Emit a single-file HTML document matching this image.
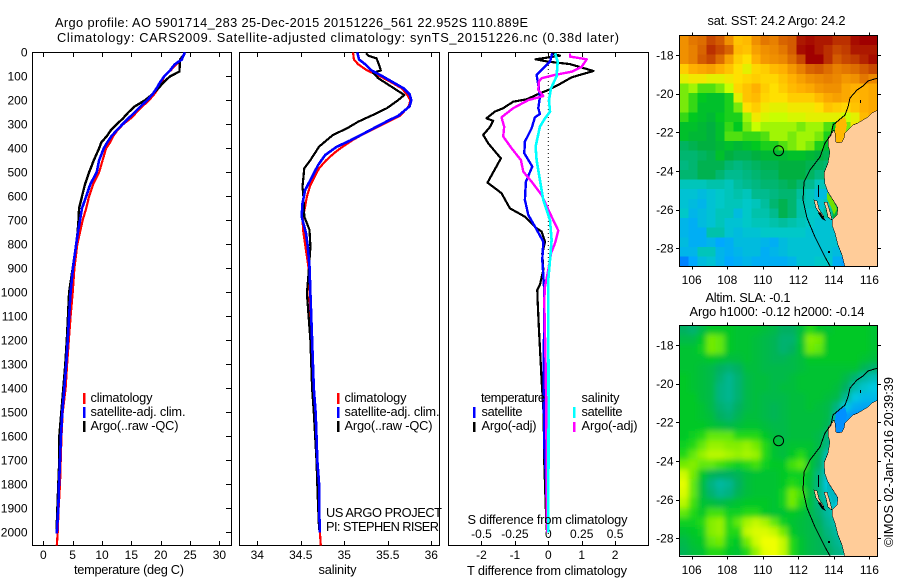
<!DOCTYPE html>
<html lang="en"><head><meta charset="utf-8"><title>Argo profile</title>
<style>
html,body{margin:0;padding:0;background:#fff}
svg{display:block}
text{font-family:"Liberation Sans",sans-serif;font-size:12px;fill:#000}
text.t{font-size:12.8px}
.j{shape-rendering:crispEdges}
</style></head><body>
<svg id="chart" xmlns="http://www.w3.org/2000/svg" width="900" height="580" viewBox="0 0 900 580">
<defs>
<filter id="slaSmooth" filterUnits="userSpaceOnUse" x="650" y="300" width="250" height="280"><feGaussianBlur stdDeviation="2.6"/></filter>
<clipPath id="slaClip"><rect x="679" y="325" width="199" height="230.3"/></clipPath>
</defs>
<rect width="900" height="580" fill="#fff"/>
<text class="t" x="55" y="27" textLength="473">Argo profile: AO 5901714_283 25-Dec-2015 20151226_561 22.952S 110.889E</text>
<text class="t" x="57" y="42" textLength="562">Climatology: CARS2009. Satellite-adjusted climatology: synTS_20151226.nc (0.38d later)</text>
<g id="cellsSst"></g>
<g clip-path="url(#slaClip)"><g id="cellsSla" filter="url(#slaSmooth)"></g></g>
<g id="overlay1" class="j"></g>
<g id="overlay2" class="j"></g>
<g id="axes"></g>
<g id="lines"></g>
<g>
<rect class="j" x="83" y="393" width="2.5" height="11" fill="#f00"/>
<rect class="j" x="83" y="407" width="2.5" height="11" fill="#00f"/>
<rect class="j" x="83" y="421" width="2.5" height="11" fill="#000"/>
<text class="t" x="90.5" y="402" textLength="62">climatology</text>
<text class="t" x="90.5" y="416" textLength="95">satellite-adj. clim.</text>
<text class="t" x="90.5" y="430" textLength="88">Argo(..raw -QC)</text>
</g>
<g>
<rect class="j" x="337" y="393" width="2.5" height="11" fill="#f00"/>
<rect class="j" x="337" y="407" width="2.5" height="11" fill="#00f"/>
<rect class="j" x="337" y="421" width="2.5" height="11" fill="#000"/>
<text class="t" x="344.5" y="402" textLength="62">climatology</text>
<text class="t" x="344.5" y="416" textLength="95">satellite-adj. clim.</text>
<text class="t" x="344.5" y="430" textLength="88">Argo(..raw -QC)</text>
<text class="t" x="326" y="517" textLength="116">US ARGO PROJECT</text>
<text class="t" x="326" y="531" textLength="113">PI: STEPHEN RISER</text>
</g>
<g>
<text class="t" x="481" y="402" textLength="64">temperature</text>
<rect class="j" x="473" y="407" width="2.5" height="11" fill="#00f"/>
<rect class="j" x="473" y="422" width="2.5" height="10" fill="#000"/>
<text class="t" x="481.5" y="416" textLength="41">satellite</text>
<text class="t" x="481.5" y="430" textLength="55">Argo(-adj)</text>
<text class="t" x="581.5" y="402" textLength="38">salinity</text>
<rect class="j" x="573" y="407" width="2.5" height="11" fill="#0ff"/>
<rect class="j" x="573" y="422" width="2.5" height="10" fill="#f0f"/>
<text class="t" x="581.5" y="416" textLength="41">satellite</text>
<text class="t" x="581.5" y="430" textLength="56">Argo(-adj)</text>
<text class="t" x="467.5" y="524" textLength="160">S difference from climatology</text>
</g>
<text class="t" x="74" y="574" textLength="110">temperature (deg C)</text>
<text class="t" x="318.5" y="574" textLength="38">salinity</text>
<text class="t" x="467" y="575" textLength="160">T difference from climatology</text>
<text class="t" x="707.5" y="25" textLength="138">sat. SST: 24.2 Argo: 24.2</text>
<text class="t" x="705.5" y="302" textLength="85">Altim. SLA: -0.1</text>
<text class="t" x="689.5" y="316" textLength="175">Argo h1000: -0.12 h2000: -0.14</text>
<text class="t" transform="translate(893,547) rotate(-90)" textLength="170">©IMOS 02-Jan-2016 20:39:39</text>
</svg>
<script>
/* ---- profile data: depth (m) and value arrays ---- */
const depthClim = [0,30,50,75,100,125,150,175,200,225,250,275,300,325,350,375,400,450,500,550,600,650,700,750,800,900,1000,1100,1200,1300,1400,1500,1600,1700,1800,1900,2000,2055];
const tempClim = [24.1,23.6,22.7,21.7,20.6,20.2,19.6,18.9,18.0,16.9,15.9,14.9,13.6,12.6,11.9,11.4,10.7,10.1,9.5,8.5,7.8,7.3,6.7,6.25,5.8,5.3,5.0,4.65,4.35,4.05,3.8,3.3,3.1,2.96,2.85,2.6,2.45,2.3];
const depthSat = [0,30,50,75,100,125,150,175,200,225,250,275,300,325,350,375,400,450,500,550,600,650,700,750,800,900,1000,1100,1200,1300,1400,1500,1600,1700,1800,1900,2005];
const tempSat = [24.1,23.6,22.4,21.6,20.6,19.9,19.3,18.6,17.7,16.6,15.6,14.5,13.5,12.5,11.6,10.9,10.3,9.5,9.1,8,7.3,6.6,6.25,5.9,5.6,5.05,4.65,4.4,4.15,3.9,3.58,3.24,3.0,2.85,2.67,2.55,2.3];
const depthArgoT = [5,30,70,80,100,125,150,175,200,225,250,275,300,325,350,375,400,450,500,550,600,650,700,750,800,900,1000,1100,1200,1300,1400,1500,1600,1700,1800,1900,2000];
const tempArgo = [24.1,23.3,23.2,23.2,21.6,20.5,19.6,18.6,17.3,15.6,14.5,13.6,12.5,11.5,10.8,9.9,9.5,8.6,7.8,7.1,6.6,6.1,6.0,5.85,5.6,5,4.4,4.2,4,3.75,3.4,3.07,2.73,2.73,2.55,2.4,2.25];

const depthSalClim = [0,30,50,75,100,125,150,175,200,225,265,282,303,324,344,365,396,421,451,483,518,553,601,643,699,750,800,850,900,1000,1200,1400,1500,1600,1700,1800,1900,2000,2055];
const salClim = [35.10,35.11,35.16,35.26,35.41,35.54,35.66,35.72,35.76,35.74,35.64,35.54,35.43,35.31,35.20,35.10,34.97,34.88,34.79,34.71,34.66,34.61,34.57,34.55,34.52,34.53,34.55,34.57,34.59,34.60,34.62,34.645,34.665,34.67,34.685,34.70,34.71,34.72,34.73];
const depthSalSat = [0,30,50,75,100,125,150,175,200,225,265,282,318,339,367,394,428,469,532,574,630,685,754,810,893,1004,1200,1400,1500,1600,1700,1800,1900,2000];
const salSat = [35.15,35.17,35.24,35.31,35.44,35.56,35.68,35.75,35.77,35.75,35.62,35.52,35.33,35.22,35.07,34.91,34.78,34.70,34.61,34.55,34.52,34.51,34.56,34.58,34.60,34.61,34.63,34.65,34.67,34.68,34.69,34.71,34.71,34.72];
const depthSalArgo = [4,15,25,53,76,85,108,143,178,199,233,261,289,317,344,393,449,483,560,601,685,740,810,921,1004,1200,1400,1500,1700,1800,1900,1990];
const salArgo = [35.25,35.28,35.37,35.40,35.42,35.33,35.39,35.54,35.69,35.62,35.49,35.33,35.16,35.03,34.87,34.71,34.61,34.54,34.52,34.53,34.54,34.60,34.61,34.59,34.57,34.61,34.63,34.65,34.68,34.69,34.70,34.71];

const depthDiffTArgo = [4,14,29,39,49,78,104,136,157,171,196,206,233,247,275,286,312,344,379,442,543,587,650,685,733,747,789,838,907,969,990,1032,1150,1365,1504,1712,1921,1990];
const diffTArgo = [0.08,0.35,-0.38,0,0.65,1.35,0.7,0.3,0,-0.25,-0.65,-1.05,-1.35,-1.6,-1.85,-1.65,-1.75,-1.95,-1.8,-1.42,-1.82,-1.4,-1.15,-0.7,-0.35,-0.2,-0.1,-0.18,-0.15,-0.25,-0.33,-0.32,-0.28,-0.2,-0.14,-0.12,-0.07,-0.05];
const depthDiffTSat = [4,39,60,94,136,185,233,257,271,317,372,421,476,539,615,678,726,789,865,976,1032,1365,1640,1780,1990];
const diffTSat = [0.12,0.05,-0.1,-0.35,-0.3,-0.25,-0.3,-0.25,-0.4,-0.5,-0.7,-0.72,-0.48,-0.67,-0.7,-0.6,-0.4,-0.15,-0.18,-0.13,-0.12,-0.14,-0.12,-0.07,-0.03];
const depthDiffSArgo = [4,18,29,60,81,94,108,122,157,182,199,233,271,310,351,400,449,497,539,594,671,743,796,838,893,976,1032,1300,1500,2000];
const diffSArgo = [0.1625,0.1625,0.2875,0.25,0.175,0.05,-0.05,-0.07,-0.075,-0.0375,-0.15,-0.2625,-0.35,-0.33,-0.3375,-0.275,-0.205,-0.1875,-0.125,-0.05,0.0125,0.075,0.05,0.02,0.005,-0.025,-0.03,-0.02,-0.015,-0.01];
const depthDiffSSat = [4,39,100,150,199,247,275,310,393,449,532,615,699,782,865,948,1032,1500,2000];
const diffSSat = [0.05,0.07,0.0625,0.02,0.005,0.0125,-0.025,-0.0625,-0.095,-0.0875,-0.0625,-0.0375,0.0125,0.025,0.0125,0,0,0.002,0];

/* ---- tick labels ---- */
const depthTicks = [0,100,200,300,400,500,600,700,800,900,1000,1100,1200,1300,1400,1500,1600,1700,1800,1900,2000];
const tempTicks = [0,5,10,15,20,25,30];
const salTicks = [34,34.5,35,35.5,36];
const diffTTicks = [-2,-1,0,1,2];
const diffSTicks = [-0.5,-0.25,0,0.25,0.5];
const lonTicks = [106,108,110,112,114,116];
const latTicks = [18,20,22,24,26,28];

/* ---- map values (22 columns, 24 rows at 0.5 deg) ---- */
const sstGrid = [
[26.0,26.3,26.4,26.8,26.6,26.0,25.4,25.5,26.0,26.3,26.2,26.5,26.6,27.2,27.3,27.2,27.2,27.0,27.0,27.3,27.4,27.4],
[26.0,26.2,26.5,27.0,26.8,26.5,25.5,25.4,25.8,26.0,26.1,26.3,26.6,27.3,27.4,27.2,27.0,26.8,26.9,27.2,27.2,27.2],
[26.0,26.2,26.6,26.8,26.4,25.8,25.3,25.1,25.6,25.9,26.0,26.1,26.4,26.8,27.4,27.5,27.0,26.6,26.8,26.9,27.1,27.3],
[25.3,25.6,25.7,25.8,25.6,25.4,25.1,24.9,25.2,25.3,25.5,25.6,25.9,26.2,26.5,26.6,26.4,26.2,26.3,26.4,26.6,26.8],
[24.9,25.0,25.0,24.9,24.9,25.0,25.1,25.2,25.3,25.2,25.2,25.4,25.6,25.8,26.0,26.1,26.2,26.1,25.9,26.0,26.3,26.1],
[24.5,24.6,24.4,24.4,24.5,24.7,25.2,25.4,25.6,25.3,25.1,25.3,25.5,25.6,25.7,25.9,26.0,26.0,25.7,25.6,25.6,25.7],
[24.5,24.3,24.1,24.0,24.0,24.2,24.9,25.4,25.5,25.2,25.1,25.1,25.3,25.3,25.3,25.5,25.7,25.8,25.7,25.5,25.6,25.7],
[24.5,24.3,24.0,24.0,24.0,24.2,24.5,25.1,25.3,25.0,24.9,24.9,25.0,25.0,25.0,25.1,25.4,25.3,25.2,25.4,25.6,25.7],
[24.3,24.1,24.0,23.9,24.1,24.2,24.2,24.6,25.0,24.8,24.7,24.7,24.8,24.8,24.9,24.9,24.9,24.9,24.7,24.9,25.5,25.7],
[24.0,24.0,23.9,23.8,24.0,24.3,24.1,24.5,24.7,24.6,24.6,24.6,24.6,24.5,24.6,24.6,24.4,24.1,24.5,25.0,25.4,25.6],
[24.0,23.9,23.9,23.8,24.0,24.4,24.4,24.3,24.3,24.4,24.6,24.6,24.5,24.6,24.6,24.5,24.2,24.0,25.2,25.2,25.2,25.2],
[23.6,23.7,23.8,23.8,23.9,24.0,23.9,24.0,24.1,24.2,24.2,24.4,24.5,24.6,24.5,24.2,24.0,23.8,23.8,23.8,23.8,23.8],
[23.5,23.5,23.6,23.7,24.0,23.8,23.7,23.7,23.8,23.9,23.9,23.9,24.0,24.0,23.9,23.8,23.7,23.6,23.6,23.6,23.6,23.6],
[23.4,23.5,23.7,23.7,23.7,23.5,23.4,23.5,23.6,23.7,23.7,23.8,23.8,23.8,23.7,23.6,23.5,23.5,23.5,23.5,23.5,23.5],
[23.5,23.5,23.7,23.7,23.5,23.3,23.3,23.4,23.5,23.6,23.6,23.8,23.8,23.8,23.6,23.4,23.5,23.5,23.5,23.5,23.5,23.5],
[23.0,23.0,23.0,23.1,23.1,23.0,23.2,23.3,23.4,23.5,23.5,23.6,23.7,23.5,23.3,23.0,23.0,23.2,23.2,23.2,23.2,23.2],
[22.8,22.8,22.7,22.8,22.9,23.0,23.1,23.0,23.3,23.3,23.4,23.5,23.5,23.2,23.0,22.7,22.7,23.3,24.0,24.0,24.0,24.0],
[22.8,22.7,22.6,22.8,22.9,23.0,23.0,22.9,23.0,23.2,23.5,23.7,23.5,23.1,23.0,22.8,23.0,23.5,24.0,24.0,24.0,24.0],
[22.9,22.6,22.7,22.8,23.0,23.0,22.7,22.9,23.1,23.1,23.3,23.7,23.5,23.1,22.9,22.9,23.2,23.8,24.4,24.4,24.4,24.4],
[22.6,22.5,22.7,22.8,23.0,22.8,22.8,22.9,23.0,23.0,23.1,23.2,23.1,23.0,22.9,22.8,22.8,22.8,22.8,22.8,22.8,22.8],
[22.6,22.5,22.5,23.1,23.1,22.8,22.7,22.8,22.8,22.9,22.9,22.9,22.9,22.9,22.8,22.8,22.8,22.8,22.8,22.8,22.8,22.8],
[22.7,22.5,22.5,22.6,22.4,22.5,22.7,22.7,22.7,22.6,22.5,22.7,22.8,22.8,22.8,22.8,22.8,22.8,22.8,22.8,22.8,22.8],
[22.6,22.6,23.0,23.0,22.6,22.5,22.6,22.7,22.7,22.5,22.6,22.7,22.8,22.8,22.8,22.8,22.8,22.7,22.7,22.7,22.7,22.7],
[22.0,22.4,22.7,22.8,22.6,22.4,22.5,22.6,22.5,22.5,22.5,22.5,22.6,22.8,22.8,22.9,22.9,22.5,22.3,22.3,22.3,22.3]
];
const slaGrid = [
[-.12,-.13,-.10,-.07,-.07,-.07,-.08,-.08,-.08,-.09,-.10,-.12,-.12,-.09,-.05,-.07,-.08,-.07,-.07,-.07,-.07,-.08],
[-.10,-.10,-.07,-.02,-.03,-.07,-.08,-.08,-.09,-.10,-.11,-.13,-.13,-.08,-.01,-.02,-.07,-.07,-.07,-.07,-.07,-.08],
[-.08,-.08,-.06,-.02,-.03,-.07,-.08,-.08,-.09,-.10,-.11,-.13,-.12,-.08,-.02,-.03,-.07,-.07,-.07,-.07,-.07,-.08],
[-.08,-.08,-.08,-.07,-.08,-.09,-.09,-.08,-.09,-.10,-.11,-.11,-.10,-.09,-.07,-.07,-.07,-.07,-.07,-.07,-.08,-.09],
[-.08,-.08,-.09,-.10,-.12,-.13,-.12,-.09,-.09,-.10,-.10,-.10,-.10,-.09,-.08,-.08,-.08,-.08,-.08,-.08,-.11,-.13],
[-.07,-.08,-.09,-.10,-.13,-.15,-.13,-.10,-.09,-.09,-.10,-.10,-.09,-.08,-.08,-.08,-.08,-.08,-.10,-.13,-.16,-.18],
[-.07,-.08,-.09,-.10,-.14,-.15,-.13,-.10,-.09,-.09,-.10,-.09,-.09,-.08,-.08,-.08,-.08,-.09,-.12,-.17,-.20,-.22],
[-.07,-.07,-.09,-.10,-.14,-.15,-.13,-.10,-.09,-.10,-.10,-.10,-.09,-.09,-.08,-.08,-.09,-.10,-.15,-.22,-.24,-.24],
[-.07,-.07,-.08,-.10,-.13,-.14,-.12,-.10,-.09,-.10,-.11,-.10,-.09,-.09,-.08,-.09,-.10,-.14,-.22,-.26,-.27,-.27],
[-.07,-.07,-.08,-.09,-.12,-.13,-.11,-.09,-.09,-.10,-.11,-.10,-.09,-.09,-.09,-.09,-.10,-.16,-.28,-.30,-.30,-.30],
[-.07,-.07,-.07,-.08,-.09,-.10,-.09,-.08,-.08,-.09,-.10,-.10,-.09,-.09,-.09,-.09,-.11,-.20,-.30,-.30,-.30,-.30],
[-.07,-.06,-.05,-.03,-.03,-.03,-.05,-.05,-.05,-.07,-.09,-.10,-.09,-.09,-.09,-.10,-.14,-.18,-.18,-.18,-.18,-.18],
[-.06,-.05,-.03,.00,.00,-.01,-.01,.00,-.02,-.05,-.08,-.09,-.08,-.08,-.08,-.10,-.14,-.20,-.20,-.20,-.20,-.20],
[-.05,-.03,.00,.02,.02,.01,.00,.01,.00,-.05,-.08,-.09,-.07,-.05,-.08,-.11,-.18,-.24,-.24,-.24,-.24,-.24],
[-.02,-.01,-.03,-.03,-.04,-.05,-.06,-.05,-.04,-.06,-.07,-.07,-.04,-.03,-.08,-.12,-.20,-.24,-.24,-.24,-.24,-.24],
[.04,-.02,-.07,-.11,-.12,-.12,-.11,-.09,-.08,-.08,-.08,-.07,-.06,-.06,-.08,-.14,-.20,-.24,-.26,-.26,-.26,-.26],
[.06,-.03,-.09,-.14,-.16,-.15,-.12,-.09,-.08,-.08,-.08,-.07,-.05,-.06,-.09,-.14,-.22,-.26,-.20,-.20,-.20,-.20],
[.05,-.03,-.09,-.13,-.15,-.14,-.11,-.09,-.08,-.08,-.08,-.06,-.02,-.04,-.09,-.14,-.20,-.26,-.14,-.14,-.14,-.14],
[.02,-.04,-.08,-.09,-.10,-.09,-.08,-.07,-.07,-.07,-.08,-.06,-.02,-.05,-.09,-.14,-.17,-.22,-.22,-.22,-.22,-.22],
[-.03,-.05,-.07,-.04,-.04,-.06,-.06,-.05,-.05,-.07,-.08,-.08,-.07,-.08,-.10,-.13,-.16,-.20,-.20,-.20,-.20,-.20],
[-.06,-.06,-.05,-.01,.00,-.05,-.03,.01,.03,.01,-.03,-.06,-.08,-.09,-.10,-.12,-.15,-.18,-.22,-.22,-.22,-.22],
[-.08,-.07,-.06,-.01,.00,-.05,-.05,.03,.05,.05,.03,-.02,-.07,-.09,-.10,-.11,-.14,-.16,-.22,-.22,-.22,-.22],
[-.10,-.08,-.07,-.03,-.02,-.06,-.07,-.02,.04,.07,.07,.03,-.05,-.08,-.10,-.11,-.13,-.15,-.18,-.22,-.22,-.22],
[-.11,-.09,-.08,-.05,-.05,-.07,-.08,-.05,.00,.06,.07,.03,-.05,-.08,-.10,-.11,-.12,-.14,-.16,-.20,-.20,-.20]
];
const argoLon = 110.889;
const argoLat = 22.952;

/* ---- axis functions ---- */
const NS = 'http://www.w3.org/2000/svg';
const yDepth = d => 52.3 + 0.24 * d;
const xTemp = t => 43.3 + 5.87 * t;
const xSal = s => 257.3 + 87 * (s - 34);
const xDiffT = t => 548.3 + 33.4 * t;
const xDiffS = s => 548.3 + 133.6 * s;
const xLon = lon => 691.7 + 17.77 * (lon - 106);
const yLatTop = lat => 55 + 19.33 * (lat - 18);
const yLatBot = lat => 345 + 19.33 * (lat - 18);

const axes = document.getElementById('axes');
const linesG = document.getElementById('lines');

function mk(parent, tag, attrs) {
  const el = document.createElementNS(NS, tag);
  for (const k in attrs) el.setAttribute(k, attrs[k]);
  parent.appendChild(el);
  return el;
}
function hexMix(stops, v) {
  if (v <= stops[0][0]) return stops[0][1];
  for (let i = 1; i < stops.length; i++) {
    if (v <= stops[i][0]) {
      const a = stops[i - 1], b = stops[i], f = (v - a[0]) / (b[0] - a[0]);
      const c = [1, 3, 5].map(p => Math.round(parseInt(a[1].substr(p, 2), 16) * (1 - f) + parseInt(b[1].substr(p, 2), 16) * f));
      return 'rgb(' + c.join(',') + ')';
    }
  }
  return stops[stops.length - 1][1];
}
const sstColors = [[21.8,'#0070ff'],[22.4,'#00a8ff'],[22.9,'#00c8c8'],[23.4,'#00b880'],[23.8,'#00b040'],[24.1,'#00c820'],[24.4,'#50e010'],[24.7,'#c8ff00'],[25.1,'#ffe000'],[25.6,'#ffb000'],[26.2,'#e88000'],[26.8,'#c84800'],[27.4,'#a00000']];
const slaColors = [[-.30,'#0090ff'],[-.22,'#00c8e0'],[-.16,'#00b8a0'],[-.12,'#00b060'],[-.07,'#00c828'],[-.05,'#20d818'],[-.03,'#60e808'],[.02,'#b8f800'],[.07,'#f0ff00']];

/* ---- heatmap cells ---- */
function drawGrid(target, grid, stops, top, name, bleed) {
  const w = (877.3 - 679.3) / 22;
  grid.forEach((row, r) => {
    row.forEach((val, c) => {
      let x = 679.3 + c * w, y = top + r * 9.62, cw = w + 0.4, ch = 10;
      if (bleed && c === 0) { x -= 12; cw += 12; }
      if (bleed && c === row.length - 1) { cw += 12; }
      if (bleed && r === 0) { y -= 12; ch += 12; }
      if (bleed && r === grid.length - 1) { ch += 12; }
      const cell = document.createElementNS(NS, 'rect');
      
      
      cell.setAttribute('x', x.toFixed(2));
      cell.setAttribute('y', y.toFixed(2));
      cell.setAttribute('width', cw.toFixed(2));
      cell.setAttribute('height', ch);
      cell.setAttribute('fill', hexMix(stops, val));
      cell.setAttribute('class', 'j');
      target.appendChild(cell);
    });
  });
}
drawGrid(document.getElementById('cellsSst'), sstGrid, sstColors, 35.3, 'sst-cell', false);
drawGrid(document.getElementById('cellsSla'), slaGrid, slaColors, 325, 'sla-cell', true);

/* ---- coast overlays (same outline on both maps) ---- */
const landPath = 'M878 110 L872 113 L868 117 L863 120 L858 123 L853 125 L849 129 L845 133 L844 138 L842 142 L838 143 L836 142 L835 133 L834 130 L832 133 L828 137 L828 145 L830 152 L828 163 L824 173 L825 184 L828 192 L833 200 L838 208 L837 215 L832 220 L832 225 L835 233 L838 245 L842 255 L845 267 L878 267 Z';
const isoPath = 'M878 78 L868 81 L863 86 L857 90 L850 98 L848 107 L845 115 L833 125 L831 135 L825 143 L820 157 L810 170 L804 182 L803 200 L807 218 L815 237 L825 257 L830 266';
const islandPaths = ['M814 200 L817 201 L819 209 L824 217 L820 214 L816 208 Z', 'M824 202 L827 202 L830 212 L832 220 L828 217 L826 208 Z'];
const blackPaths = ['M818 185 L819 185 L819 197 L818 197 Z', 'M860 100 L861 100 L861 103 L860 103 Z', 'M820 212 L824 218 L826 221 L822 219 L818 213 Z', 'M828 251 L830 251 L830 253 L828 253 Z'];
function drawOverlay(g, dy, gulfFill, bayFill, prefix) {
  g.setAttribute('transform', 'translate(0,' + dy + ')');
  const gulf = mk(g, 'path', {d: 'M836 122 L845 117 L847 125 L845 134 L842 143 L836 143 L835 130 Z', fill: gulfFill});
  
  
  const bay = mk(g, 'path', {d: 'M827 192 L833 200 L837 209 L834 215 L831 207 L827 199 Z', fill: bayFill});
  
  
  const land = mk(g, 'path', {d: landPath, fill: '#ffcc99'});
  
  
  const coast = mk(g, 'path', {d: landPath.replace(' L878 267 Z', ''), fill: 'none', stroke: '#000', 'stroke-width': 0.5});
  
  
  islandPaths.forEach(p => {
    const isl = mk(g, 'path', {d: p, fill: '#ffcc99', stroke: '#000', 'stroke-width': 0.5});
    
    
  });
  blackPaths.forEach(p => {
    const blk = mk(g, 'path', {d: p, fill: '#000'});
    
    
  });
  const iso = mk(g, 'path', {d: isoPath, fill: 'none', stroke: '#000', 'stroke-width': 1});
  
  
}
drawOverlay(document.getElementById('overlay1'), 0, '#ffb800', '#70e000', 'sst');
drawOverlay(document.getElementById('overlay2'), 290, '#0090ff', '#00b8c0', 'sla');

/* ---- axes ---- */
function frame(x, y, w, h, name) {
  const f = mk(axes, 'rect', {x: x, y: y, width: w, height: h, fill: 'none', stroke: '#000', 'stroke-width': 1, class: 'j'});
  
  
}
function tick(x1, y1, x2, y2, name) {
  const t = mk(axes, 'line', {x1: x1, y1: y1, x2: x2, y2: y2, stroke: '#000', 'stroke-width': 1, class: 'j'});
  
  
}
function label(x, y, anchor, str, name) {
  const t = mk(axes, 'text', {x: x, y: y, 'text-anchor': anchor});
  t.textContent = str;
  
  
}
frame(32.5, 52.5, 199, 493, 'temperature-panel');
frame(239.5, 52.5, 200, 493, 'salinity-panel');
frame(448.5, 52.5, 200, 493, 'difference-panel');
frame(679.5, 35.5, 198, 231, 'sst-map-frame');
frame(679.5, 325.5, 198, 231, 'sla-map-frame');

depthTicks.forEach(d => {
  const y = Math.round(yDepth(d)) + 0.5;
  if (d > 0) tick(226, y, 231, y, 'depth-tick');
  label(27.5, yDepth(d) + 4.3, 'end', String(d), 'depth-tick-label');
});
tempTicks.forEach(v => {
  const x = Math.round(xTemp(v)) + 0.5;
  tick(x, 52, x, 57, 'temperature-tick-top');
  tick(x, 541, x, 546, 'temperature-tick-bottom');
  label(xTemp(v), 559, 'middle', String(v), 'temperature-tick-label');
});
salTicks.forEach(v => {
  const x = Math.round(xSal(v)) + 0.5;
  tick(x, 52, x, 57, 'salinity-tick-top');
  tick(x, 541, x, 546, 'salinity-tick-bottom');
  label(xSal(v), 559, 'middle', String(v), 'salinity-tick-label');
});
diffTTicks.forEach(v => {
  const x = Math.round(xDiffT(v)) + 0.5;
  tick(x, 52, x, 57, 'difference-tick-top');
  tick(x, 541, x, 546, 'difference-tick-bottom');
  label(xDiffT(v), 559, 'middle', String(v), 't-difference-tick-label');
});
diffSTicks.forEach(v => {
  label(xDiffS(v), 538, 'middle', String(v), 's-difference-tick-label');
});
[[yLatTop, 35.5, 266.5, 284, 'sst'], [yLatBot, 325.5, 556.5, 574, 'sla']].forEach(m => {
  lonTicks.forEach(v => {
    const x = Math.round(xLon(v)) + 0.5;
    tick(x, m[1] - 3, x, m[1], m[4] + '-lon-tick-top');
    tick(x, m[2], x, m[2] + 3, m[4] + '-lon-tick-bottom');
    label(xLon(v), m[3], 'middle', String(v), m[4] + '-lon-label');
  });
  latTicks.forEach(v => {
    const y = Math.round(m[0](v)) + 0.5;
    tick(676, y, 679.5, y, m[4] + '-lat-tick-left');
    tick(877.5, y, 881, y, m[4] + '-lat-tick-right');
    label(673.5, m[0](v) + 4.3, 'end', '-' + v, m[4] + '-lat-label');
  });
  const ring = mk(axes, 'circle', {cx: xLon(argoLon), cy: m[0](argoLat), r: 5, fill: 'none', stroke: '#000', 'stroke-width': 1});
  
  
});

/* ---- series ---- */
function series(depths, values, xFn, color, width, name) {
  const pl = mk(linesG, 'polyline', {
    points: depths.map((d, i) => xFn(values[i]).toFixed(1) + ',' + yDepth(d).toFixed(1)).join(' '),
    fill: 'none', stroke: color, 'stroke-width': width, 'stroke-linejoin': 'round', class: 'j'
  });
  
  
}
const zeroLine = mk(linesG, 'line', {x1: xDiffT(0), y1: 53, x2: xDiffT(0), y2: 545, stroke: '#000', 'stroke-width': 1, 'stroke-dasharray': '1 3'});


series(depthClim, tempClim, xTemp, '#f00', 2.2, 'temperature-climatology-line');
series(depthArgoT, tempArgo, xTemp, '#000', 2.4, 'temperature-argo-line');
series(depthSat, tempSat, xTemp, '#00f', 2.6, 'temperature-satellite-line');
series(depthSalClim, salClim, xSal, '#f00', 2.2, 'salinity-climatology-line');
series(depthSalArgo, salArgo, xSal, '#000', 2.2, 'salinity-argo-line');
series(depthSalSat, salSat, xSal, '#00f', 2.6, 'salinity-satellite-line');
series(depthDiffTArgo, diffTArgo, xDiffT, '#000', 2.2, 't-difference-argo-line');
series(depthDiffTSat, diffTSat, xDiffT, '#00f', 2.4, 't-difference-satellite-line');
series(depthDiffSArgo, diffSArgo, xDiffS, '#f0f', 2.4, 's-difference-argo-line');
series(depthDiffSSat, diffSSat, xDiffS, '#0ff', 2.6, 's-difference-satellite-line');
</script>
</body></html>
